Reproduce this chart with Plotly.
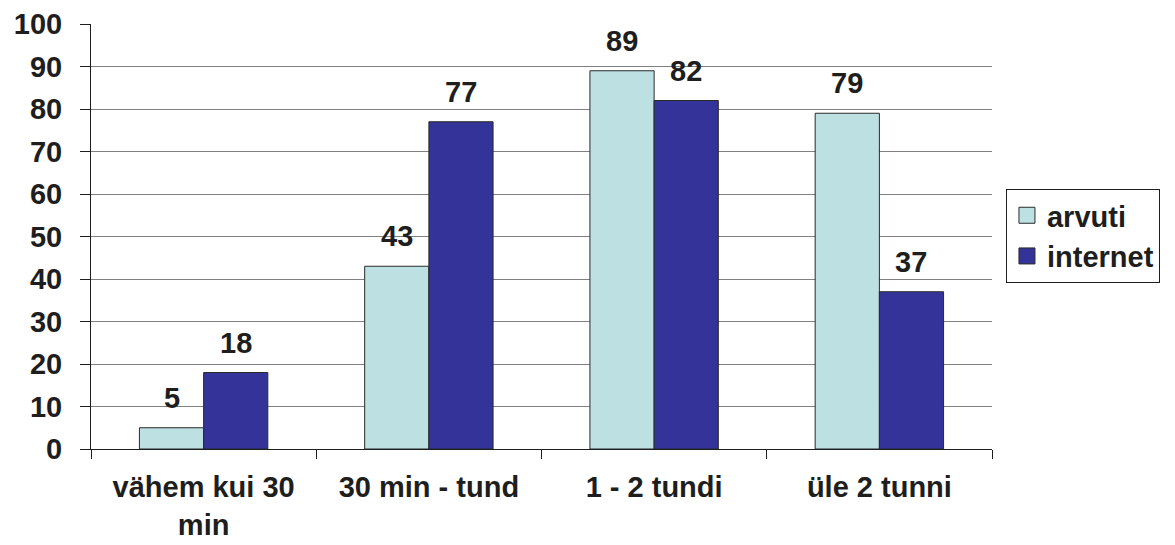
import plotly.graph_objects as go

categories = ["vähem kui 30<br>min", "30 min - tund", "1 - 2 tundi", "üle 2 tunni"]
arvuti = [5, 43, 89, 79]
internet = [18, 77, 82, 37]
series_names = ["arvuti", "internet"]
colors = ["#BDE0E3", "#333399"]
y_ticks = list(range(0, 101, 10))

FONT = "Liberation Sans, Arial, sans-serif"
TXT = "#1e1e1e"
FS = 29

fig = go.Figure()
for name, vals, col in zip(series_names, [arvuti, internet], colors):
    fig.add_trace(go.Bar(
        x=categories, y=vals, name=name, showlegend=False,
        marker=dict(color=col, line=dict(color="#2a2a2a", width=1)),
    ))
    # legend proxy with larger square
    fig.add_trace(go.Scatter(
        x=[None], y=[None], mode="markers", name=name,
        marker=dict(symbol="square", size=16, color=col,
                    line=dict(color="#2a2a2a", width=1)),
    ))

for vals, shift in [(arvuti, -32), (internet, 32)]:
    for c, v in zip(categories, vals):
        fig.add_annotation(
            x=c, y=v, text=f"<b>{v}</b>", showarrow=False,
            xshift=shift, yshift=12, yanchor="bottom",
            font=dict(family=FONT, size=FS, color=TXT),
        )

# the page body has an 8px margin, so margins compensate for it
fig.update_layout(
    width=1175, height=545,
    margin=dict(l=83, r=191, t=16, b=104, autoexpand=False),
    paper_bgcolor="white", plot_bgcolor="white",
    barmode="group", bargap=0.43, bargroupgap=0,
    font=dict(family=FONT, size=FS, color=TXT),
    showlegend=True,
    legend=dict(
        x=1.0155, y=0.612, xanchor="left", yanchor="top",
        bordercolor="#1e1e1e", borderwidth=1, bgcolor="white",
        font=dict(family=FONT, size=FS, color=TXT, weight="bold"),
        tracegroupgap=0,
    ),
)
fig.update_xaxes(
    type="category", tickson="boundaries", ticks="outside", ticklen=9,
    tickcolor="#1e1e1e", showline=True, linecolor="#1e1e1e", linewidth=1,
    showgrid=False, ticklabelstandoff=12, automargin=False,
    tickfont=dict(family=FONT, size=FS, color=TXT, weight="bold"),
)
fig.update_yaxes(
    range=[0, 100], tickvals=y_ticks, ticks="outside", ticklen=10,
    tickcolor="#1e1e1e", showline=True, linecolor="#1e1e1e", linewidth=1,
    showgrid=True, gridcolor="#808080", gridwidth=1, zeroline=False,
    ticklabelstandoff=12, automargin=False,
    tickfont=dict(family=FONT, size=FS, color=TXT, weight="bold"),
)

fig.write_html("out.html")
